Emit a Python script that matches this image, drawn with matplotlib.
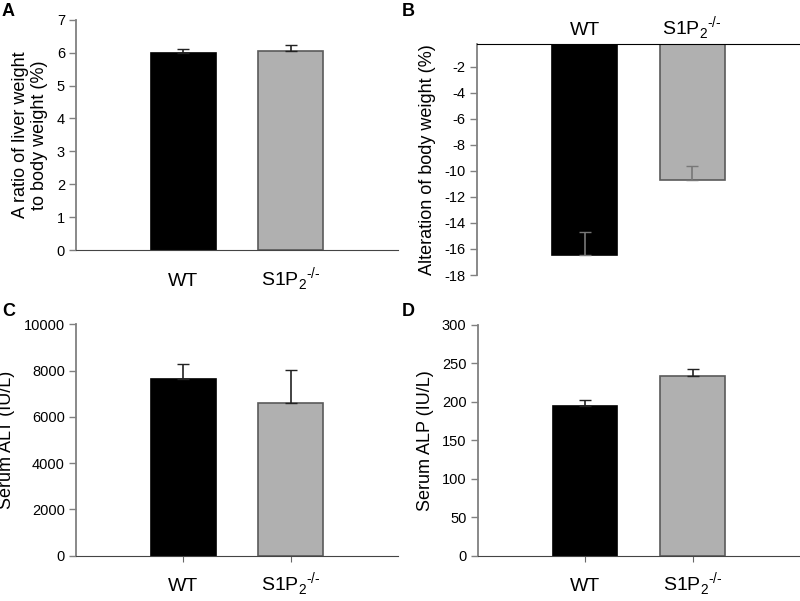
import matplotlib
matplotlib.use("Agg")
import matplotlib.pyplot as plt

plt.rcParams['font.family'] = ['Liberation Sans', 'DejaVu Sans']
plt.rcParams['axes.unicode_minus'] = False
plt.rcParams['mathtext.fontset'] = 'custom'
plt.rcParams['mathtext.rm'] = 'Liberation Sans'

groups = ['WT', r'S1P$_2$$^{\text{-/-}}$']
colors = ['black', '#b0b0b0']
edges = ['black', '#5a5a5a']

# panel data (mean, error)
ratio = [6.0, 6.05]
ratio_err = [0.11, 0.18]

body_alt = [-16.5, -10.7]
body_err = [1.8, 1.05]

alt = [7650, 6610]
alt_err = [650, 1430]

alp = [195, 233]
alp_err = [7.5, 10]

fig = plt.figure(figsize=(8, 6.01), dpi=100)
x = [1, 2]


def setup(ax, ylabel, label_offset):
    ax.spines['right'].set_visible(False)
    ax.spines['left'].set_color('#808080')
    ax.spines['left'].set_linewidth(1.3)
    ax.set_xlim(0, 3)
    ax.set_ylabel(ylabel, fontsize=13, labelpad=6)
    ax.tick_params(axis='y', direction='out', length=5, width=1, colors='#808080',
                   labelcolor='black', labelsize=10.5, pad=3)
    ax.set_xticks(x)
    ax.set_xticklabels([])
    # group labels placed on a common baseline
    ypos = 1 if label_offset > 0 else 0
    for xi, g in zip(x, groups):
        ax.annotate(g, xy=(xi, ypos), xycoords=('data', 'axes fraction'),
                    xytext=(0, label_offset), textcoords='offset points',
                    ha='center', va='baseline', fontsize=14)


# A
axA = fig.add_axes([0.095, 0.584, 0.4025, 0.383])
axA.bar(x, ratio, width=0.6, color=colors, edgecolor=edges, linewidth=1.2)
axA.errorbar(x, ratio, yerr=[[0, 0], ratio_err], fmt='none', ecolor='#222222',
             elinewidth=1.2, capsize=4)
axA.set_ylim(0, 7)
axA.set_yticks(range(0, 8))
setup(axA, 'A ratio of liver weight\nto body weight (%)', -26)
axA.spines['top'].set_visible(False)
axA.spines['bottom'].set_color('#444444')
axA.tick_params(axis='x', length=0)

# B
axB = fig.add_axes([0.596, 0.5424, 0.404, 0.3844])
axB.bar(x, body_alt, width=0.6, color=colors, edgecolor=edges, linewidth=1.2)
axB.errorbar(x, body_alt, yerr=[[0, 0], body_err], fmt='none', ecolor='#777777',
             elinewidth=1.2, capsize=4)
axB.set_ylim(-18, -0.25)
axB.set_yticks(range(-18, 0, 2))
setup(axB, 'Alteration of body weight (%)', 6.5)
axB.spines['bottom'].set_visible(False)
axB.spines['top'].set_color('black')
axB.tick_params(axis='x', length=0)

# C
axC = fig.add_axes([0.095, 0.0754, 0.4025, 0.385])
axC.bar(x, alt, width=0.6, color=colors, edgecolor=edges, linewidth=1.2)
axC.errorbar(x, alt, yerr=[[0, 0], alt_err], fmt='none', ecolor='#222222',
             elinewidth=1.2, capsize=4)
axC.set_ylim(0, 10000)
axC.set_yticks(range(0, 10001, 2000))
setup(axC, 'Serum ALT (IU/L)', -25.5)
axC.spines['top'].set_visible(False)
axC.spines['bottom'].set_color('#444444')
axC.tick_params(axis='x', direction='out', length=4, colors='#666666')

# D
axD = fig.add_axes([0.597, 0.0754, 0.403, 0.384])
axD.bar(x, alp, width=0.6, color=colors, edgecolor=edges, linewidth=1.2)
axD.errorbar(x, alp, yerr=[[0, 0], alp_err], fmt='none', ecolor='#222222',
             elinewidth=1.2, capsize=4)
axD.set_ylim(0, 300)
axD.set_yticks(range(0, 301, 50))
setup(axD, 'Serum ALP (IU/L)', -25.5)
axD.spines['top'].set_visible(False)
axD.spines['bottom'].set_color('#444444')
axD.tick_params(axis='x', direction='out', length=4, colors='#666666')

# panel letters
for lbl, (px, py) in zip('ABCD', [(2, 3), (402, 3), (2, 303), (402, 303)]):
    fig.text(px / 800, 1 - py / 601, lbl, fontsize=13, fontweight='bold',
             va='top', ha='left')

fig.savefig('out.png', dpi=100)
